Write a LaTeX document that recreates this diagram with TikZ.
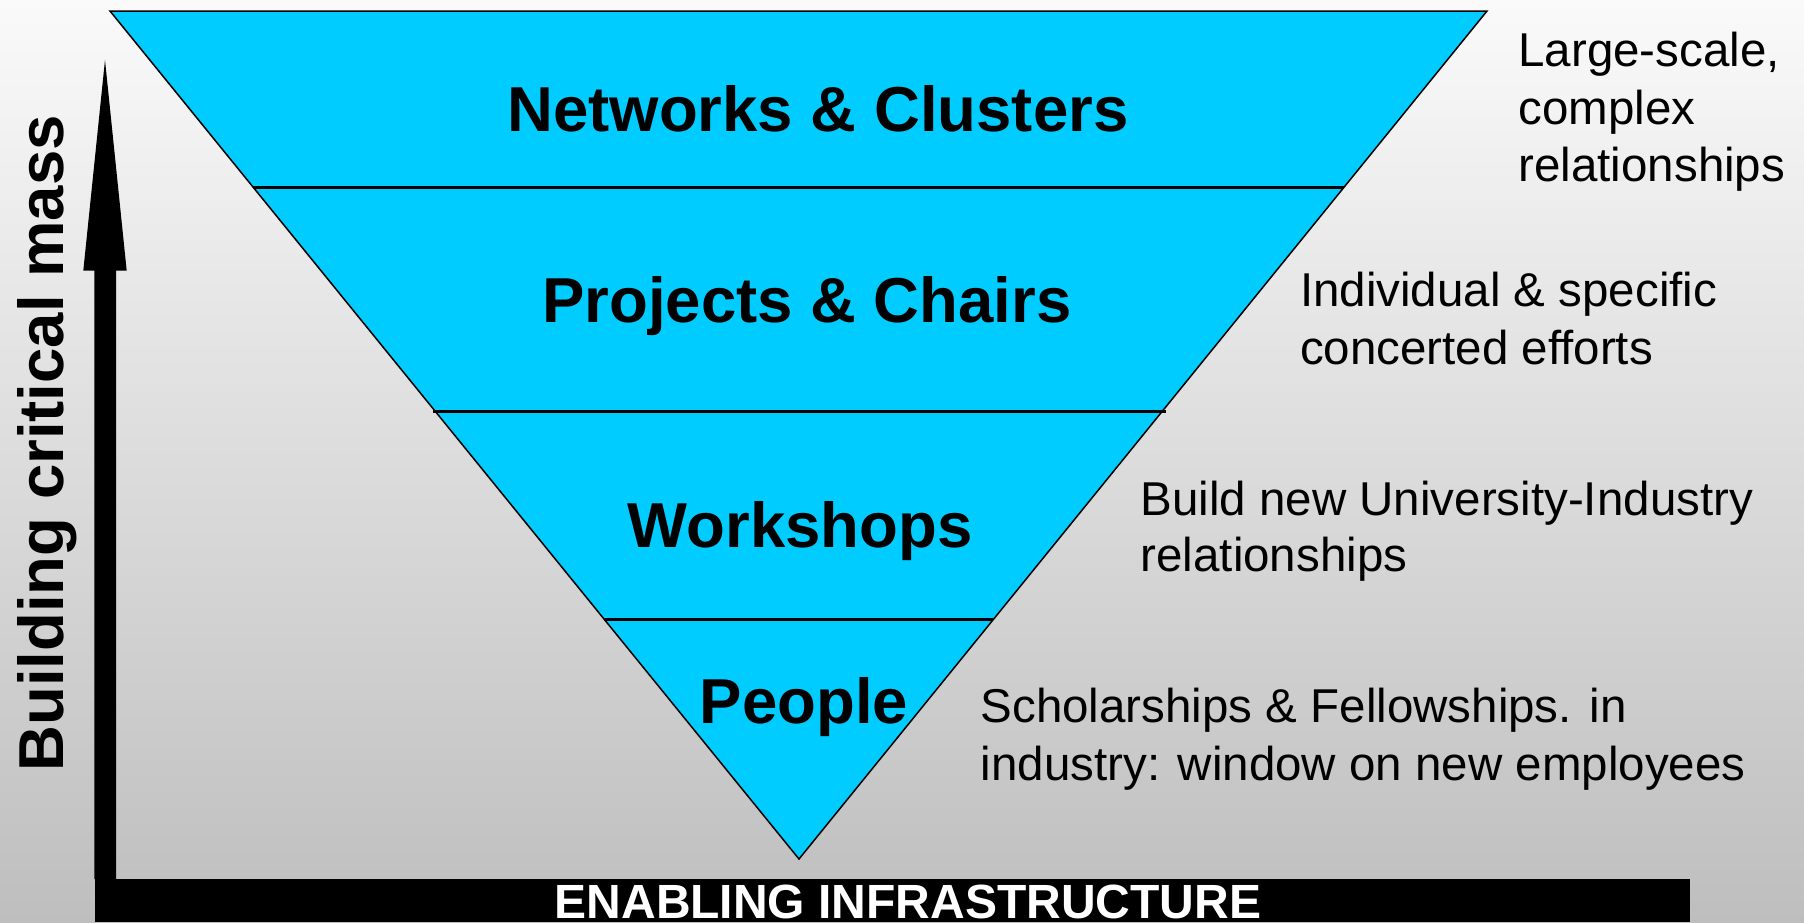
\documentclass[tikz,border=0pt]{standalone}
\usepackage{fontspec}
\setmainfont{Liberation Sans}
\usetikzlibrary{calc}
\definecolor{bgtop}{HTML}{FAFAFA}
\definecolor{bgbot}{HTML}{BEBEBE}
\definecolor{cyanfill}{HTML}{00CCFF}
\tikzset{
  levellabel/.style={inner sep=0pt, anchor=base, font=\fontsize{63.5}{76}\selectfont\bfseries},
  sidetext/.style={inner sep=0pt, anchor=base west, font=\fontsize{47.5}{57}\selectfont},
  divider/.style={line width=3pt},
  outline/.style={line width=1.5pt, line join=miter},
}
\begin{document}
\begin{tikzpicture}[x=1pt,y=-1pt]
\useasboundingbox (0,0) rectangle (1804,922);
\shade[top color=bgtop, bottom color=bgbot] (0,0) rectangle (1804,922);

% inverted triangle
\coordinate (TL) at (110,11);
\coordinate (TR) at (1487,11);
\coordinate (B) at (799,859);
\fill[cyanfill] (TL) -- (TR) -- (B) -- cycle;
% dividing lines
\coordinate (L1) at ($(TL)!0.20814!(B)$);
\coordinate (R1) at ($(TR)!0.20814!(B)$);
\coordinate (L2) at ($(TL)!0.4717!(B)+(-2,0)$);
\coordinate (R2) at ($(TR)!0.4717!(B)+(4,0)$);
\coordinate (L3) at ($(TL)!0.71733!(B)$);
\coordinate (R3) at ($(TR)!0.71733!(B)$);
\draw[divider] (L1) -- (R1);
\draw[divider] (L2) -- (R2);
\draw[divider] (L3) -- (R3);
\draw[outline] (TL) -- (TR) -- (B) -- cycle;

% level labels
\node[levellabel] (net) at (818,131) {Networks \& Clusters};
\node[levellabel] (proj) at (807,322.7) {Projects \& Chairs};
\node[levellabel] (work) at (800,547.3) {Workshops};
\node[levellabel] (peop) at (804,723.3) {People};

% side texts
\node[sidetext] (ls1) at (1518.3,66.7) {Large-scale,};
\node[sidetext] (ls2) at (1518.3,124) {complex};
\node[sidetext] (ls3) at (1518.3,181.3) {relationships};
\node[sidetext] (in1) at (1299.8,306.7) {Individual \& specific};
\node[sidetext] (in2) at (1299.8,364) {concerted efforts};
\node[sidetext] (bu1) at (1140.4,515) {Build new University-Industry};
\node[sidetext] (bu2) at (1140.4,571.7) {relationships};
\node[sidetext] (sc1) at (980.5,722.7) {Scholarships \& Fellowships. in};
\node[sidetext] (sc2) at (980.5,780) {industry: window on new employees};

% vertical arrow
\coordinate (tip) at (105,60);
\fill (tip) -- (126.7,270.7) -- (116,270.7) -- (116,879) -- (94.3,879) -- (94.3,270.7) -- (83.3,270.7) -- cycle;
\node[inner sep=0pt, anchor=base west, rotate=90, font=\fontsize{63.5}{76}\selectfont\bfseries] (mass) at (63.3,771.7) {Building critical mass};

% bottom bar
\fill (95,879) rectangle (1690.4,922);
\node[inner sep=0pt, anchor=base, text=white, font=\fontsize{48}{57}\selectfont\bfseries] (infra) at (908,918.7) {ENABLING INFRASTRUCTURE};
\end{tikzpicture}
\end{document}
